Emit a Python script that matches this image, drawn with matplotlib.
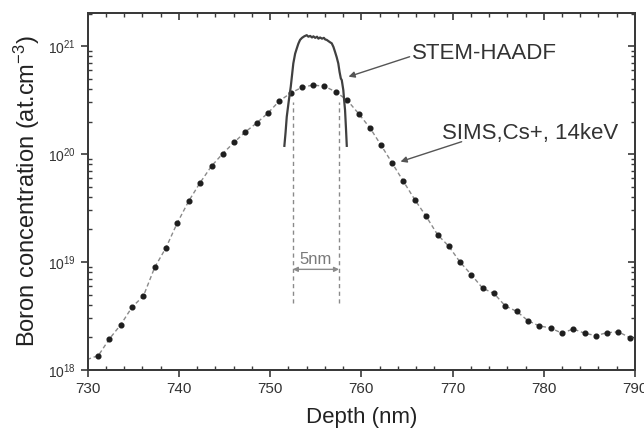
import numpy as np
import matplotlib
matplotlib.use("Agg")
import matplotlib.pyplot as plt
from matplotlib.ticker import LogLocator, LogFormatterSciNotation, MultipleLocator, NullFormatter

plt.rcParams["font.family"] = ["Liberation Sans", "DejaVu Sans"]
plt.rcParams["mathtext.fontset"] = "custom"
plt.rcParams["mathtext.rm"] = "Liberation Sans"
plt.rcParams["mathtext.it"] = "Liberation Sans:italic"
plt.rcParams["mathtext.bf"] = "Liberation Sans:bold"

# ── data ──────────────────────────────────────────────────────────────────────

# SIMS profile; first point sits just left of the axis so the line runs to the edge
sims_depth = [729.94, 731.18, 732.39, 733.64, 734.88, 736.12, 737.36, 738.60, 739.84,
              741.09, 742.33, 743.59, 744.82, 746.05, 747.29, 748.54, 749.78,
              751.02, 752.27, 753.51, 754.71, 755.95, 757.20, 758.47, 759.72,
              760.96, 762.16, 763.40, 764.61, 765.89, 767.12, 768.36, 769.59,
              770.82, 772.06, 773.31, 774.55, 775.79, 777.04, 778.27, 779.50,
              780.74, 782.00, 783.23, 784.47, 785.73, 786.96, 788.19, 789.47]
sims_conc = [1.25e18, 1.36e18, 1.94e18, 2.63e18, 3.83e18, 4.84e18, 8.93e18, 1.36e19, 2.31e19,
             3.67e19, 5.42e19, 7.74e19, 1.01e20, 1.28e20, 1.60e20, 1.94e20, 2.40e20,
             3.10e20, 3.67e20, 4.15e20, 4.35e20, 4.24e20, 3.77e20, 3.14e20, 2.36e20,
             1.74e20, 1.21e20, 8.20e19, 5.59e19, 3.75e19, 2.64e19, 1.79e19, 1.40e19,
             1.00e19, 7.63e18, 5.71e18, 5.11e18, 3.91e18, 3.49e18, 2.86e18, 2.56e18,
             2.45e18, 2.19e18, 2.40e18, 2.19e18, 2.08e18, 2.22e18, 2.25e18, 1.99e18]

# STEM-HAADF profile
stem_depth = [751.57, 751.70, 751.83, 752.05, 752.27, 752.55, 752.75, 752.93, 753.10,
              753.29, 753.50, 753.75, 754.02, 754.20, 754.40, 754.60, 754.75, 754.95,
              755.15, 755.30, 755.48, 755.70, 755.90, 756.05, 756.21, 756.40, 756.60,
              756.76, 756.95, 757.12, 757.30, 757.48, 757.62, 757.76, 757.86, 758.03,
              758.12, 758.22, 758.32, 758.41]
stem_conc = [1.19e20, 1.58e20, 2.21e20, 3.09e20, 4.2e20, 6.9e20, 8.5e20, 9.5e20, 1.05e21,
             1.14e21, 1.19e21, 1.23e21, 1.26e21, 1.22e21, 1.24e21, 1.20e21, 1.23e21, 1.19e21,
             1.22e21, 1.17e21, 1.20e21, 1.17e21, 1.19e21, 1.15e21, 1.14e21, 1.11e21, 1.08e21,
             1.06e21, 9.8e20, 8.85e20, 7.9e20, 6.9e20, 5.75e20, 5.0e20, 4.84e20, 3.91e20,
             3.16e20, 2.55e20, 1.74e20, 1.19e20]

# 5 nm marker lines
width_edges = [752.5, 757.56]
width_span = [4.15e18, 3.0e20]

XLIM = (730, 790)
YLIM = (1e18, 2.04e21)
AXCOL = "#3a3a3a"

# ── plot ─────────────────────────────────────────────────────────────────────

fig = plt.figure(figsize=(6.44, 4.34), dpi=100)
ax = fig.add_axes([0.136, 0.1475, 0.850, 0.8235])

ax.plot(sims_depth, sims_conc, ls=(0, (3, 2)), lw=1.0, color="#8a8a8a",
        marker="o", ms=3.4, mfc="#1e1e1e", mec="#1e1e1e",
        markevery=slice(1, None))
ax.plot(stem_depth, stem_conc, color="#404040", lw=1.6)

for xe in width_edges:
    ax.plot([xe, xe], width_span, ls=(0, (3, 2.5)), lw=1.0, color="#8a8a8a")

ax.annotate("", xy=(width_edges[0], 8.55e18), xytext=(width_edges[1], 8.55e18),
            arrowprops=dict(arrowstyle="<|-|>", color="#8a8a8a", lw=1.0,
                            mutation_scale=7, shrinkA=0, shrinkB=0))
ax.text(np.mean(width_edges), 1.06e19, "5nm", ha="center", va="center",
        fontsize=12, color="#7a7a7a")

ax.text(765.6, 8.6e20, "STEM-HAADF", ha="left", va="center", fontsize=16, color="#333333")
ax.annotate("", xy=(758.6, 5.2e20), xytext=(765.3, 7.96e20),
            arrowprops=dict(arrowstyle="-|>", color="#555555", lw=1.0,
                            mutation_scale=9, shrinkA=0, shrinkB=0))

ax.text(768.8, 1.56e20, "SIMS,Cs+, 14keV", ha="left", va="center", fontsize=16, color="#333333")
ax.annotate("", xy=(764.3, 8.5e19), xytext=(771.0, 1.30e20),
            arrowprops=dict(arrowstyle="-|>", color="#555555", lw=1.0,
                            mutation_scale=9, shrinkA=0, shrinkB=0))

ax.set_yscale("log")
ax.set_xlim(*XLIM)
ax.set_ylim(*YLIM)

ax.xaxis.set_major_locator(MultipleLocator(10))
ax.xaxis.set_minor_locator(MultipleLocator(2))
ax.yaxis.set_major_locator(LogLocator(base=10, numticks=10))
ax.yaxis.set_major_formatter(LogFormatterSciNotation())
ax.yaxis.set_minor_locator(LogLocator(base=10, subs=np.arange(2, 10), numticks=20))
ax.yaxis.set_minor_formatter(NullFormatter())

for side in ["left", "right", "top", "bottom"]:
    ax.spines[side].set_color(AXCOL)
    ax.spines[side].set_linewidth(1.4)

ax.tick_params(which="major", direction="out", length=5, width=1.2, color=AXCOL,
               labelsize=11, labelcolor="#333333")
ax.tick_params(which="minor", direction="in", length=3, width=1.0, color=AXCOL)
ax.tick_params(which="major", axis="y", labelsize=10)

# top and right ticks point inward, no labels
ax_top = ax.twiny()
ax_top.set_xlim(*XLIM)
ax_top.xaxis.set_major_locator(MultipleLocator(10))
ax_top.xaxis.set_minor_locator(MultipleLocator(2))
ax_top.tick_params(which="both", direction="in", color=AXCOL, labeltop=False)
ax_top.tick_params(which="major", length=5, width=1.2)
ax_top.tick_params(which="minor", length=3, width=1.0)

ax_right = ax.twinx()
ax_right.set_yscale("log")
ax_right.set_ylim(*YLIM)
ax_right.yaxis.set_major_locator(LogLocator(base=10, numticks=10))
ax_right.yaxis.set_minor_locator(LogLocator(base=10, subs=np.arange(2, 10), numticks=20))
ax_right.yaxis.set_minor_formatter(NullFormatter())
ax_right.tick_params(which="both", direction="in", color=AXCOL, labelright=False)
ax_right.tick_params(which="major", length=5, width=1.2)
ax_right.tick_params(which="minor", length=3, width=1.0)

for a in (ax_top, ax_right):
    for side in ["left", "right", "top", "bottom"]:
        a.spines[side].set_color(AXCOL)
        a.spines[side].set_linewidth(1.4)

ax.set_xlabel("Depth (nm)", fontsize=16, color="#222222", labelpad=8)
ax.set_ylabel("Boron concentration (at.cm$^{-3}$)", fontsize=17, color="#222222", labelpad=4)

fig.savefig("out.png", dpi=100, facecolor="white")
